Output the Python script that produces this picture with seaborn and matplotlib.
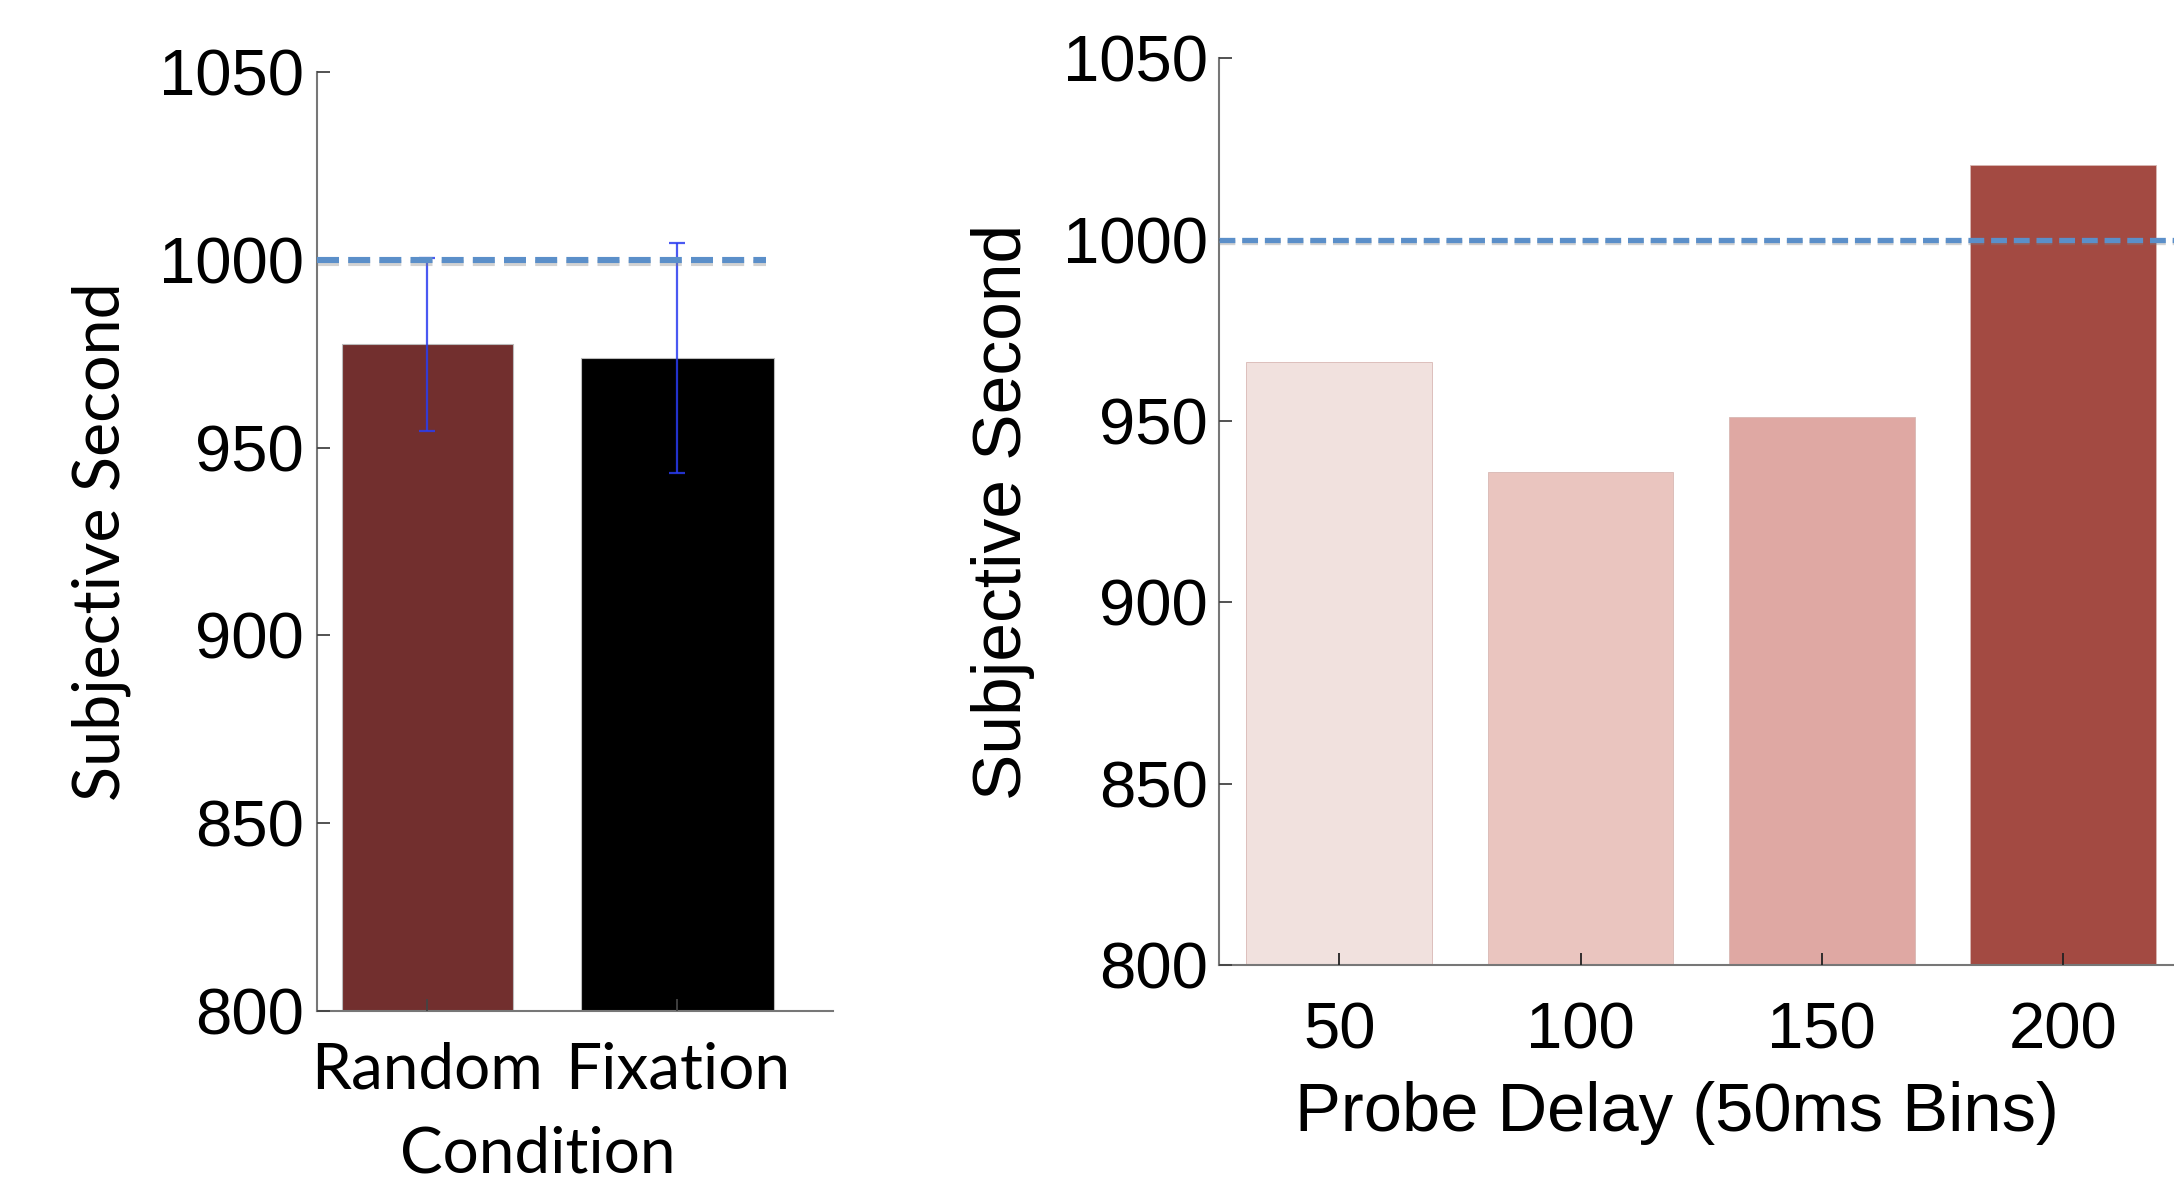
import numpy as np
import pandas as pd
import matplotlib
matplotlib.use("Agg")
import matplotlib.pyplot as plt
import matplotlib.patheffects as pe
import seaborn as sns

# left panel: condition means with error bars
conditions = ["Random", "Fixation"]
cond_means = [977.5, 973.8]
cond_errors = [23.0, 30.6]

# right panel: probe delay bins
delays = ["50", "100", "150", "200"]
delay_means = [966.4, 935.9, 951.1, 1020.6]

reference = 1000

cond_colors = ["#722F2E", "#000000"]
delay_colors = ["#F1E1DE", "#EAC5BF", "#DFA8A3", "#A34A42"]

sns.set_theme(style="white")
plt.rcParams["font.family"] = ["Liberation Sans", "DejaVu Sans"]
plt.rcParams["text.color"] = "black"
plt.rcParams["axes.labelcolor"] = "black"
plt.rcParams["xtick.color"] = "black"
plt.rcParams["ytick.color"] = "black"

fig = plt.figure(figsize=(21.74, 11.90), dpi=100)
ax1 = fig.add_axes([0.146, 0.1504, 0.237, 0.7891])
ax2 = fig.add_axes([0.5606, 0.189, 0.4394, 0.762])

num_size = 47

def style_axes(ax):
    for s in ["top", "right"]:
        ax.spines[s].set_visible(False)
    for s in ["left", "bottom"]:
        ax.spines[s].set_color("#777777")
        ax.spines[s].set_linewidth(1.5)
    ax.tick_params(axis="both", direction="in", length=9, width=1.3,
                   color="#444444", labelcolor="black", bottom=True, left=True)
    ax.set_axisbelow(False)
    ax.set_ylim(800, 1050)
    ax.set_yticks([800, 850, 900, 950, 1000, 1050])


# ---- left panel ----
df1 = pd.DataFrame({"cond": conditions, "val": cond_means})
sns.barplot(data=df1, x="cond", y="val", hue="cond", palette=cond_colors,
            width=0.73, legend=False, ax=ax1, saturation=1)
bar_widths = [0.684, 0.772]
for p, w in zip(ax1.patches, bar_widths):
    c = p.get_x() + p.get_width() / 2
    p.set_width(w)
    p.set_x(c - w / 2)
    p.set_edgecolor("#bbbbbb")
    p.set_linewidth(0.8)
ax1.errorbar(range(len(conditions)), cond_means, yerr=cond_errors, fmt="none",
             ecolor="#2a3cf0", elinewidth=1.6, capsize=6, capthick=1.6, alpha=0.85, zorder=5)
ax1.axhline(reference, xmin=0, xmax=0.87, color="#5B8FC9", lw=4.4, dashes=(3.6, 1.5),
            path_effects=[pe.SimpleLineShadow(offset=(0, -2), shadow_color="gray", alpha=0.35),
                          pe.Normal()], zorder=6)
ax1.set_xlim(-0.44, 1.622)
style_axes(ax1)
ax1.tick_params(axis="y", labelsize=num_size, pad=10)
ax1.tick_params(axis="x", labelsize=46, pad=22)
for t in ax1.get_xticklabels():
    t.set_family(["Lato", "DejaVu Sans"])
ax1.set_xlabel("Condition", fontsize=46, family=["Lato", "DejaVu Sans"])
ax1.xaxis.set_label_coords(0.427, -0.122)
ax1.set_ylabel("Subjective Second", fontsize=46.5, family=["Lato", "DejaVu Sans"], labelpad=20)

# ---- right panel ----
df2 = pd.DataFrame({"delay": delays, "val": delay_means})
sns.barplot(data=df2, x="delay", y="val", hue="delay", palette=delay_colors,
            width=0.77, legend=False, ax=ax2, saturation=1)
for p in ax2.patches:
    p.set_edgecolor("#d8b8b4")
    p.set_linewidth(0.6)
ax2.axhline(reference, color="#5B8FC9", lw=3.8, dashes=(3.0, 1.3),
            path_effects=[pe.SimpleLineShadow(offset=(0, -2), shadow_color="gray", alpha=0.35),
                          pe.Normal()], zorder=6)
ax2.set_xlim(-0.5, 3.46)
style_axes(ax2)
ax2.tick_params(axis="x", color="#222222")
ax2.tick_params(axis="y", labelsize=num_size, pad=8)
ax2.tick_params(axis="x", labelsize=num_size, pad=26)
ax2.set_xlabel("Probe Delay (50ms Bins)", fontsize=49.5)
ax2.xaxis.set_label_coords(0.48, -0.128)
ax2.set_ylabel("Subjective Second", fontsize=50, labelpad=20)

fig.savefig("out.png", dpi=100)
